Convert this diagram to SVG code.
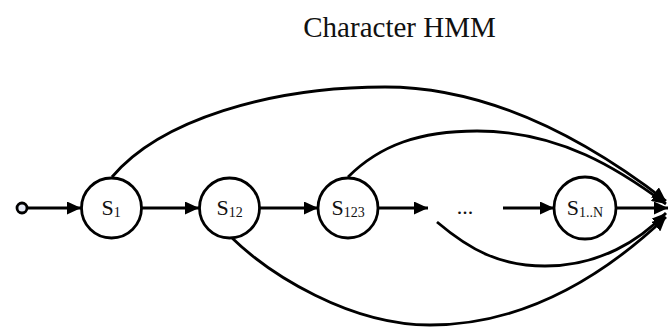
<svg xmlns="http://www.w3.org/2000/svg" width="670" height="329" viewBox="0 0 670 329">
<style>
.t{font-family:"Liberation Serif","Times New Roman",serif;fill:#111}
.n{fill:#fff;stroke:#000;stroke-width:2.8}
.e{fill:none;stroke:#000;stroke-width:2.8}
.lbl{font-size:22px}
.sub{font-size:14px}
</style>
<defs>
<marker id="ah" markerUnits="userSpaceOnUse" markerWidth="15" markerHeight="13" refX="14" refY="6.5" orient="auto">
<path d="M0,0 L14,6.5 L0,13 Z" fill="#000"/>
</marker>
</defs>
<rect width="670" height="329" fill="#fff"/>
<text class="t" x="399.5" y="37" font-size="29" text-anchor="middle">Character HMM</text>
<g id="connectors">
<path class="e" d="M27,208 L81,208" marker-end="url(#ah)"/>
<path class="e" d="M141,208 L199,208" marker-end="url(#ah)"/>
<path class="e" d="M260,208 L318,208" marker-end="url(#ah)"/>
<path class="e" d="M378,208 L428,208" marker-end="url(#ah)"/>
<path class="e" d="M503,208 L554,208" marker-end="url(#ah)"/>
<path class="e" d="M616,208 L668,208" marker-end="url(#ah)"/>
<path class="e" d="M112,177 C160,120 270,87 385,87 C500,87 600,150 666,201" marker-end="url(#ah)"/>
<path class="e" d="M348,177 C380,145 420,131 477,131 C560,131 620,170 666,204" marker-end="url(#ah)"/>
<path class="e" d="M437,222 C470,250 500,266 545,266 C600,266 640,240 666,213" marker-end="url(#ah)"/>
<path class="e" d="M231,237 C270,275 350,325 430,325 C530,325 610,270 666,217" marker-end="url(#ah)"/>
</g>
<g id="start"><circle cx="22" cy="208" r="5" fill="#e6eaf5" stroke="#000" stroke-width="2.8"/></g>
<g id="s1"><circle class="n" cx="111.5" cy="208" r="30"/><text class="t lbl" x="111" y="215" text-anchor="middle">S<tspan class="sub" dy="2">1</tspan></text></g>
<g id="s12"><circle class="n" cx="229.5" cy="208" r="30"/><text class="t lbl" x="229.5" y="215" text-anchor="middle">S<tspan class="sub" dy="2">12</tspan></text></g>
<g id="s123"><circle class="n" cx="348" cy="208" r="30"/><text class="t lbl" x="348" y="215" text-anchor="middle">S<tspan class="sub" dy="2">123</tspan></text></g>
<g id="dots"><text class="t lbl" x="465" y="214" text-anchor="middle">...</text></g>
<g id="s1n"><circle class="n" cx="585" cy="208" r="31"/><text class="t lbl" x="585" y="215" text-anchor="middle">S<tspan class="sub" dy="2">1..N</tspan></text></g>
</svg>
